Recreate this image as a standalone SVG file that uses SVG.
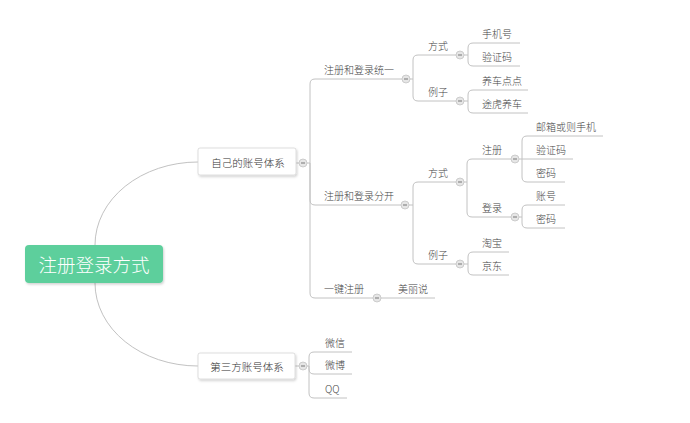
<svg xmlns="http://www.w3.org/2000/svg" width="690" height="423" viewBox="0 0 690 423">
<defs>
<filter id="sh" x="-10%" y="-20%" width="125%" height="150%">
<feDropShadow dx="1" dy="1.5" stdDeviation="1" flood-color="#000" flood-opacity="0.18"/>
</filter>
<g id="col"><circle r="4" fill="#e6e6e6" stroke="#c4c4c4" stroke-width="0.8"/><path d="M-2,0H2" stroke="#777" stroke-width="1"/></g>
</defs>
<style>
.c{fill:none;stroke:#c2c2c2;stroke-width:1}
.t{font-family:"Noto Sans CJK SC","Liberation Sans",sans-serif;font-size:10px;font-weight:300;fill:#444}
.n{font-family:"Noto Sans CJK SC","Liberation Sans",sans-serif;font-size:10.5px;font-weight:300;fill:#333;text-anchor:middle}
.box{fill:#fff;stroke:#d6d6d6;stroke-width:0.8}
</style>
<rect width="690" height="423" fill="#fff"/>
<g id="connectors" class="c">
<path d="M95,245 A103,83 0 0 1 198,162"/>
<path d="M95,283 A103,83 0 0 0 198,366"/>
<path d="M296,163 H299 M307,163 H310"/>
<path d="M310,163 V84 Q310,79 315,79 H402"/>
<path d="M310,163 V200 Q310,205 315,205 H401"/>
<path d="M310,163 V293 Q310,298 315,298 H373"/>
<path d="M381,298 H435"/>
<path d="M410,79 H413"/>
<path d="M413,79 V60 Q413,55 418,55 H456"/>
<path d="M413,79 V96 Q413,101 418,101 H456"/>
<path d="M464,55 H468"/>
<path d="M468,55 V48 Q468,43 473,43 H520"/>
<path d="M468,55 V61 Q468,66 473,66 H520"/>
<path d="M464,101 H468"/>
<path d="M468,101 V95 Q468,90 473,90 H528"/>
<path d="M468,101 V108 Q468,113 473,113 H528"/>
<path d="M409,205 H413"/>
<path d="M413,205 V187 Q413,182 418,182 H456"/>
<path d="M413,205 V259 Q413,264 418,264 H456"/>
<path d="M464,182 H467"/>
<path d="M467,182 V164 Q467,159 472,159 H511"/>
<path d="M467,182 V212 Q467,217 472,217 H511"/>
<path d="M519,159 H522"/>
<path d="M522,159 V141 Q522,136 527,136 H603"/>
<path d="M522,159 H573"/>
<path d="M522,159 V177 Q522,182 527,182 H565"/>
<path d="M519,217 H522"/>
<path d="M522,217 V210 Q522,205 527,205 H565"/>
<path d="M522,217 V223 Q522,228 527,228 H565"/>
<path d="M464,264 H468"/>
<path d="M468,264 V257 Q468,252 473,252 H509"/>
<path d="M468,264 V270 Q468,275 473,275 H509"/>
<path d="M295,366 H299 M307,366 H309"/>
<path d="M309,366 V357 Q309,352 314,352 H352"/>
<path d="M309,366 V369 Q309,374 314,374 H352"/>
<path d="M309,366 V393 Q309,398 314,398 H347"/>
</g>
<g id="root">
<rect x="25" y="245" width="138" height="38" rx="4" fill="#5dcf9c" filter="url(#sh)"/>
<text x="94" y="272" font-family="'Noto Sans CJK SC','Liberation Sans',sans-serif" font-size="18.5" font-weight="300" fill="#fff" text-anchor="middle">注册登录方式</text>
</g>
<g id="self">
<rect class="box" x="198" y="148" width="98" height="27" rx="2" filter="url(#sh)"/>
<text class="n" x="248" y="167">自己的账号体系</text>
<use href="#col" x="303" y="163"/>
</g>
<g id="third">
<rect class="box" x="198" y="353" width="97" height="26" rx="2" filter="url(#sh)"/>
<text class="n" x="247" y="371">第三方账号体系</text>
<use href="#col" x="303" y="366"/>
</g>
<g id="unified"><text class="t" x="324" y="74">注册和登录统一</text><use href="#col" x="406" y="79"/></g>
<g id="u-way"><text class="t" x="428" y="50">方式</text><use href="#col" x="460" y="55"/></g>
<g id="u-phone"><text class="t" x="482" y="38">手机号</text></g>
<g id="u-code"><text class="t" x="482" y="61">验证码</text></g>
<g id="u-ex"><text class="t" x="428" y="96">例子</text><use href="#col" x="460" y="101"/></g>
<g id="u-ycdd"><text class="t" x="482" y="85">养车点点</text></g>
<g id="u-thyc"><text class="t" x="482" y="108">途虎养车</text></g>
<g id="separate"><text class="t" x="324" y="200">注册和登录分开</text><use href="#col" x="405" y="205"/></g>
<g id="s-way"><text class="t" x="428" y="177">方式</text><use href="#col" x="460" y="182"/></g>
<g id="s-reg"><text class="t" x="482" y="154">注册</text><use href="#col" x="515" y="159"/></g>
<g id="s-reg-mail"><text class="t" x="536" y="131">邮箱或则手机</text></g>
<g id="s-reg-code"><text class="t" x="536" y="154">验证码</text></g>
<g id="s-reg-pwd"><text class="t" x="536" y="177">密码</text></g>
<g id="s-login"><text class="t" x="482" y="212">登录</text><use href="#col" x="515" y="217"/></g>
<g id="s-login-acc"><text class="t" x="536" y="200">账号</text></g>
<g id="s-login-pwd"><text class="t" x="536" y="223">密码</text></g>
<g id="s-ex"><text class="t" x="428" y="259">例子</text><use href="#col" x="460" y="264"/></g>
<g id="s-taobao"><text class="t" x="482" y="247">淘宝</text></g>
<g id="s-jd"><text class="t" x="482" y="270">京东</text></g>
<g id="onekey"><text class="t" x="324" y="293">一键注册</text><use href="#col" x="377" y="298"/></g>
<g id="mls"><text class="t" x="398" y="293">美丽说</text></g>
<g id="wechat"><text class="t" x="325" y="347">微信</text></g>
<g id="weibo"><text class="t" x="325" y="369">微博</text></g>
<g id="qq"><text class="t" x="325" y="393">QQ</text></g>
</svg>
